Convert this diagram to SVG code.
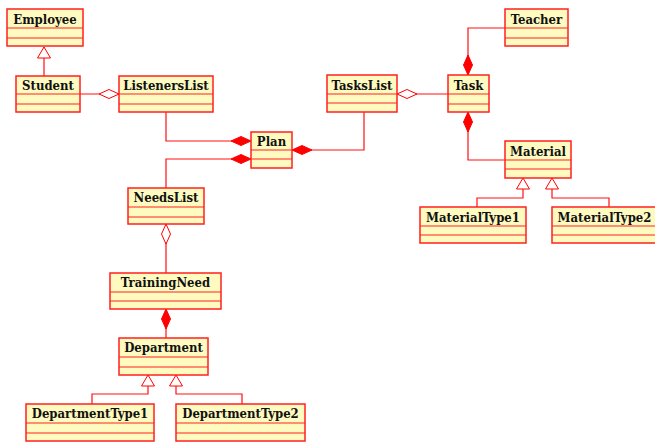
<svg xmlns="http://www.w3.org/2000/svg" width="655" height="443" viewBox="0 0 655 443">
<style>
.box{fill:#fefac0;stroke:#ff2020;stroke-width:1.5}
.div{stroke:#ff2020;stroke-width:1.2}
.t{font-family:"DejaVu Serif Condensed","DejaVu Serif",serif;font-stretch:condensed;font-weight:bold;font-size:13px;fill:#111;text-anchor:middle}
.c{fill:none;stroke:#ff1010;stroke-width:1.2}
.comp{marker-start:url(#fd)}
.agg{marker-start:url(#hd)}
.gen{marker-start:url(#tri)}
</style>
<defs>
<marker id="fd" markerUnits="userSpaceOnUse" markerWidth="22" markerHeight="12" refX="1" refY="6" orient="auto" overflow="visible">
<path d="M1,6 L11,1.5 L21,6 L11,10.5 Z" fill="#ff0000" stroke="#ff0000" stroke-width="1"/>
</marker>
<marker id="hd" markerUnits="userSpaceOnUse" markerWidth="22" markerHeight="12" refX="1" refY="6" orient="auto" overflow="visible">
<path d="M1,6 L11,1.5 L21,6 L11,10.5 Z" fill="#fff" stroke="#ff0000" stroke-width="1"/>
</marker>
<marker id="tri" markerUnits="userSpaceOnUse" markerWidth="14" markerHeight="16" refX="1" refY="8" orient="auto" overflow="visible">
<path d="M1,8 L12,1.5 L12,14.5 Z" fill="#fff" stroke="#ff0000" stroke-width="1"/>
</marker>
</defs>
<g id="connectors">
<path class="c gen" d="M44,47 V76"/>
<path class="c agg" d="M119,94 H80"/>
<path class="c comp" d="M251,141 H166 V112"/>
<path class="c comp" d="M251,159 H166 V188"/>
<path class="c comp" d="M292,150 H364 V112"/>
<path class="c agg" d="M397,94 H448"/>
<path class="c comp" d="M468,75 V28 H505"/>
<path class="c comp" d="M468,112 V160 H505"/>
<path class="c gen" d="M523,178 V198 H477 V207"/>
<path class="c gen" d="M552,178 V198 H609 V207"/>
<path class="c agg" d="M166,224 V273"/>
<path class="c comp" d="M166,309 V338"/>
<path class="c gen" d="M148,375 V394 H92 V404"/>
<path class="c gen" d="M176,375 V394 H242 V404"/>
</g>
<g id="Employee"><rect class="box" x="7" y="9" width="76" height="37"/><path class="div" d="M7,28 H83 M7,38 H83"/><text class="t" x="45" y="24">Employee</text></g>
<g id="Student"><rect class="box" x="16" y="76" width="64" height="36"/><path class="div" d="M16,94 H80 M16,104 H80"/><text class="t" x="48" y="90">Student</text></g>
<g id="ListenersList"><rect class="box" x="119" y="76" width="94" height="36"/><path class="div" d="M119,94 H213 M119,104 H213"/><text class="t" x="166" y="90">ListenersList</text></g>
<g id="TasksList"><rect class="box" x="327" y="75" width="70" height="37"/><path class="div" d="M327,94 H397 M327,103 H397"/><text class="t" x="362" y="90">TasksList</text></g>
<g id="Teacher"><rect class="box" x="505" y="9" width="63" height="37"/><path class="div" d="M505,28 H568 M505,38 H568"/><text class="t" x="536.5" y="24">Teacher</text></g>
<g id="Task"><rect class="box" x="448" y="75" width="41" height="37"/><path class="div" d="M448,94 H489 M448,104 H489"/><text class="t" x="468.5" y="90">Task</text></g>
<g id="Plan"><rect class="box" x="251" y="132" width="41" height="36"/><path class="div" d="M251,150 H292 M251,159 H292"/><text class="t" x="271.5" y="146">Plan</text></g>
<g id="Material"><rect class="box" x="505" y="141" width="66" height="37"/><path class="div" d="M505,160 H571 M505,169 H571"/><text class="t" x="538" y="156">Material</text></g>
<g id="MaterialType1"><rect class="box" x="420" y="207" width="106" height="36"/><path class="div" d="M420,226 H526 M420,235 H526"/><text class="t" x="473" y="222">MaterialType1</text></g>
<g id="MaterialType2"><rect class="box" x="552" y="207" width="105" height="36"/><path class="div" d="M552,226 H657 M552,235 H657"/><text class="t" x="604.5" y="222">MaterialType2</text></g>
<g id="NeedsList"><rect class="box" x="128" y="188" width="76" height="36"/><path class="div" d="M128,207 H204 M128,217 H204"/><text class="t" x="166" y="202">NeedsList</text></g>
<g id="TrainingNeed"><rect class="box" x="110" y="273" width="111" height="36"/><path class="div" d="M110,292 H221 M110,301 H221"/><text class="t" x="165.5" y="287">TrainingNeed</text></g>
<g id="Department"><rect class="box" x="119" y="338" width="89" height="37"/><path class="div" d="M119,357 H208 M119,367 H208"/><text class="t" x="163.5" y="352">Department</text></g>
<g id="DepartmentType1"><rect class="box" x="26" y="404" width="128" height="37"/><path class="div" d="M26,423 H154 M26,433 H154"/><text class="t" x="90" y="418">DepartmentType1</text></g>
<g id="DepartmentType2"><rect class="box" x="176" y="404" width="129" height="37"/><path class="div" d="M176,423 H305 M176,433 H305"/><text class="t" x="240.5" y="418">DepartmentType2</text></g>
</svg>
